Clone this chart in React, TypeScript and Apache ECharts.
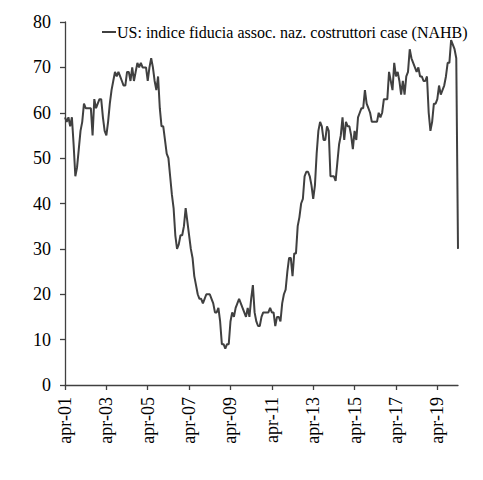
import React, { useEffect, useRef } from "react";
import * as echarts from "echarts";

const MONTHS = ["gen", "feb", "mar", "apr", "mag", "giu", "lug", "ago", "set", "ott", "nov", "dic"];
const START_YEAR = 2001;
const START_MONTH = 3; // April

// NAHB index, monthly, Apr 2001 – Apr 2020
const values2001 = [59, 58, 59, 57, 59, 53, 46, 48, 52]; // Apr–Dec 2001
const values2002 = [56, 58, 62, 61, 61, 61, 61, 55, 63, 61, 62, 63];
const values2003 = [63, 59, 56, 55, 58, 62, 65, 67, 69, 68, 69, 68];
const values2004 = [67, 66, 66, 69, 69, 67, 70, 67, 69, 71, 70, 71];
const values2005 = [70, 70, 70, 67, 70, 72, 70, 67, 65, 68, 61, 57];
const values2006 = [57, 54, 51, 50, 46, 42, 39, 33, 30, 31, 33, 33];
const values2007 = [35, 39, 36, 33, 30, 28, 24, 22, 20, 19, 19, 18];
const values2008 = [19, 20, 20, 20, 19, 18, 16, 16, 17, 14, 9, 9];
const values2009 = [8, 9, 9, 14, 16, 15, 17, 18, 19, 18, 17, 16];
const values2010 = [15, 17, 15, 19, 22, 16, 14, 13, 13, 15, 16, 16];
const values2011 = [16, 16, 17, 16, 16, 13, 15, 15, 14, 18, 20, 21];
const values2012 = [25, 28, 28, 24, 29, 29, 35, 37, 40, 41, 46, 47];
const values2013 = [47, 46, 44, 41, 44, 51, 56, 58, 57, 54, 54, 57];
const values2014 = [56, 46, 46, 46, 45, 49, 53, 55, 59, 54, 58, 57];
const values2015 = [57, 55, 52, 56, 54, 59, 60, 61, 61, 65, 62, 61];
const values2016 = [60, 58, 58, 58, 58, 60, 59, 60, 63, 63, 63, 69];
const values2017 = [67, 65, 71, 68, 69, 67, 64, 67, 64, 68, 69, 74];
const values2018 = [72, 71, 70, 69, 70, 68, 68, 67, 67, 68, 60, 56];
const values2019 = [58, 62, 62, 63, 66, 64, 65, 66, 68, 71, 71, 76];
const values2020 = [75, 74, 72, 30]; // Jan–Apr 2020

const seriesValues = [
  ...values2001, ...values2002, ...values2003, ...values2004, ...values2005,
  ...values2006, ...values2007, ...values2008, ...values2009, ...values2010,
  ...values2011, ...values2012, ...values2013, ...values2014, ...values2015,
  ...values2016, ...values2017, ...values2018, ...values2019, ...values2020,
];

const categories = seriesValues.map((_, i) => {
  const m = START_MONTH + i;
  const y = START_YEAR + Math.floor(m / 12);
  return `${MONTHS[m % 12]}-${String(y % 100).padStart(2, "0")}`;
});

const SERIES_NAME = "US: indice fiducia assoc. naz. costruttori case (NAHB)";
const FONT = "'Liberation Serif', 'Times New Roman', serif";
const AXIS_COLOR = "#404040";
const LINE_COLOR = "#404040";

export default function App() {
  const ref = useRef<HTMLDivElement>(null);
  useEffect(() => {
    if (!ref.current) return;
    const chart = echarts.init(ref.current, undefined, { renderer: "svg" });
    chart.setOption({
      animation: false,
      backgroundColor: "#ffffff",
      textStyle: { fontFamily: FONT },
      grid: { left: 65, right: 25, top: 22, bottom: 95, containLabel: false },
      legend: {
        show: true,
        left: 97,
        top: 19,
        itemWidth: 14,
        itemHeight: 2,
        itemGap: 0,
        icon: "rect",
        data: [{ name: SERIES_NAME, itemStyle: { color: LINE_COLOR } }],
        textStyle: { fontFamily: FONT, fontSize: 16, color: "#000", padding: [0, 0, 0, -4] },
      },
      xAxis: {
        type: "category",
        data: categories,
        boundaryGap: false,
        axisLine: { show: true, lineStyle: { color: AXIS_COLOR, width: 1.3 } },
        axisTick: { show: true, interval: 23, length: 5, lineStyle: { color: AXIS_COLOR, width: 1.3 } },
        axisLabel: {
          interval: 23,
          rotate: 90,
          margin: 12,
          fontFamily: FONT,
          fontSize: 18,
          color: "#000",
        },
        splitLine: { show: false },
      },
      yAxis: {
        type: "value",
        min: 0,
        max: 80,
        interval: 10,
        axisLine: { show: true, lineStyle: { color: AXIS_COLOR, width: 1.3 } },
        axisTick: { show: true, length: 5, lineStyle: { color: AXIS_COLOR, width: 1.3 } },
        axisLabel: { margin: 14, fontFamily: FONT, fontSize: 18, color: "#000" },
        splitLine: { show: false },
      },
      series: [
        {
          name: SERIES_NAME,
          type: "line",
          data: seriesValues,
          showSymbol: false,
          symbol: "none",
          lineStyle: { color: LINE_COLOR, width: 2 },
          itemStyle: { color: LINE_COLOR },
        },
      ],
    });
    return () => chart.dispose();
  }, []);
  return (
    <div
      ref={ref}
      style={{ position: "absolute", left: 0, top: 0, width: 483, height: 480 }}
    />
  );
}
